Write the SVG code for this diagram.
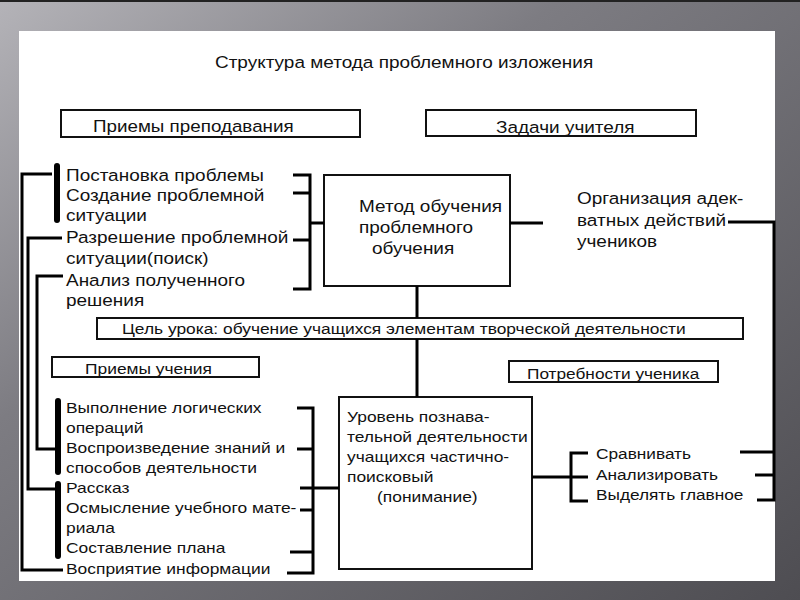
<svg xmlns="http://www.w3.org/2000/svg" width="800" height="600" viewBox="0 0 800 600">
<defs>
<linearGradient id="bg" x1="0" y1="0" x2="1" y2="1">
<stop offset="0" stop-color="#b4b3b8"/>
<stop offset="0.35" stop-color="#7d7c82"/>
<stop offset="1" stop-color="#4e4d52"/>
</linearGradient>
<style>
text{font-family:"Liberation Sans",Arial,sans-serif;fill:#111;}
.t16{font-size:16.5px;}
.t15{font-size:15px;}
.box{fill:#fff;stroke:#111;stroke-width:2;}
.ln{fill:none;stroke:#000;stroke-width:3;}
.bar{fill:none;stroke:#000;stroke-width:6;stroke-linecap:round;}
</style>
</defs>
<rect x="0" y="0" width="800" height="600" fill="url(#bg)"/>
<rect x="0" y="0" width="800" height="2" fill="#222"/>
<rect x="19" y="31" width="756" height="550" fill="#fff"/>

<g id="title" transform="translate(215,0) scale(1.15,1)">
<text class="t16" x="0" y="68">Структура метода проблемного изложения</text>
</g>

<g id="teach-box">
<rect class="box" x="61" y="110" width="299" height="27"/>
<text class="t16" transform="translate(93,0) scale(1.14,1)" x="0" y="132">Приемы преподавания</text>
</g>
<g id="tasks-box">
<rect class="box" x="426" y="110" width="270" height="26"/>
<text class="t16" transform="translate(496,0) scale(1.15,1)" x="0" y="133">Задачи учителя</text>
</g>

<g id="teach-list" transform="translate(66,0) scale(1.15,1)">
<text class="t16" x="0" y="181">Постановка проблемы</text>
<text class="t16" x="0" y="201">Создание проблемной</text>
<text class="t16" x="0" y="221">ситуации</text>
<text class="t16" x="0" y="243">Разрешение проблемной</text>
<text class="t16" x="0" y="264">ситуации(поиск)</text>
<text class="t16" x="0" y="286">Анализ полученного</text>
<text class="t16" x="0" y="306">решения</text>
</g>

<g id="method-box">
<rect class="box" x="324" y="175" width="186" height="111"/>
<g transform="translate(359,0) scale(1.15,1)">
<text class="t16" x="0" y="212">Метод обучения</text>
<text class="t16" x="0" y="233">проблемного</text>
<text class="t16" x="11.3" y="254">обучения</text>
</g>
</g>

<g id="org-text" transform="translate(577,0) scale(1.15,1)">
<text class="t16" x="0" y="204">Организация адек-</text>
<text class="t16" x="0" y="226">ватных действий</text>
<text class="t16" x="0" y="247">учеников</text>
</g>

<g id="goal-box">
<rect class="box" x="97" y="318" width="646" height="21"/>
<text class="t15" transform="translate(122,0) scale(1.158,1)" x="0" y="334">Цель урока: обучение учащихся элементам творческой деятельности</text>
</g>

<g id="learn-box">
<rect class="box" x="52" y="357" width="207" height="20"/>
<text class="t15" transform="translate(85,0) scale(1.16,1)" x="0" y="374">Приемы учения</text>
</g>
<g id="needs-box">
<rect class="box" x="509" y="361" width="209" height="21"/>
<text class="t15" transform="translate(527,0) scale(1.15,1)" x="0" y="379">Потребности ученика</text>
</g>

<g id="learn-list" transform="translate(66,0) scale(1.16,1)">
<text class="t15" x="0" y="413">Выполнение логических</text>
<text class="t15" x="0" y="433">операций</text>
<text class="t15" x="0" y="453">Воспроизведение знаний и</text>
<text class="t15" x="0" y="473">способов деятельности</text>
<text class="t15" x="0" y="493">Рассказ</text>
<text class="t15" x="0" y="513">Осмысление учебного мате-</text>
<text class="t15" x="0" y="533">риала</text>
<text class="t15" x="0" y="553">Составление плана</text>
<text class="t15" x="0" y="574">Восприятие информации</text>
</g>

<g id="level-box">
<rect class="box" x="339" y="397" width="193" height="172"/>
<g transform="translate(347,0) scale(1.16,1)">
<text class="t15" x="0" y="422">Уровень познава-</text>
<text class="t15" x="0" y="442">тельной деятельности</text>
<text class="t15" x="0" y="462">учащихся частично-</text>
<text class="t15" x="0" y="482">поисковый</text>
<text class="t15" x="25.9" y="502">(понимание)</text>
</g>
</g>

<g id="skills-list" transform="translate(596,0) scale(1.15,1)">
<text class="t15" x="0" y="459">Сравнивать</text>
<text class="t15" x="0" y="480">Анализировать</text>
<text class="t15" x="0" y="500">Выделять главное</text>
</g>

<g id="connectors">
<line class="bar" x1="57" y1="166" x2="57" y2="220"/>
<line class="bar" x1="58" y1="401" x2="58" y2="472"/>
<line class="bar" x1="58" y1="484" x2="58" y2="556"/>
<polyline class="ln" points="52,174 22,174 22,570 63,570"/>
<polyline class="ln" points="62,238 28,238 28,489 56,489"/>
<polyline class="ln" points="63,276 37,276 37,449 56,449"/>
<polyline class="ln" points="293,175 310,175 310,289 293,289"/>
<line class="ln" x1="293" y1="193" x2="310" y2="193"/>
<line class="ln" x1="293" y1="240" x2="310" y2="240"/>
<line class="ln" x1="310" y1="223" x2="324" y2="223"/>
<line class="ln" x1="510" y1="223" x2="543" y2="223"/>
<polyline class="ln" points="728,222 774,222 774,500 757,500"/>
<line class="ln" x1="740" y1="452" x2="774" y2="452"/>
<line class="ln" x1="755" y1="475" x2="774" y2="475"/>
<line class="ln" x1="417" y1="286" x2="417" y2="318"/>
<line class="ln" x1="417" y1="339" x2="417" y2="397"/>
<polyline class="ln" points="297,408 313,408 313,573 287,573"/>
<line class="ln" x1="297" y1="449" x2="313" y2="449"/>
<line class="ln" x1="300" y1="488" x2="339" y2="488"/>
<line class="ln" x1="300" y1="510" x2="313" y2="510"/>
<line class="ln" x1="290" y1="552" x2="313" y2="552"/>
<line class="ln" x1="532" y1="477" x2="572" y2="477"/>
<polyline class="ln" points="588,453 571,453 571,501 588,501"/>
<line class="ln" x1="571" y1="477" x2="588" y2="477"/>
</g>
</svg>
